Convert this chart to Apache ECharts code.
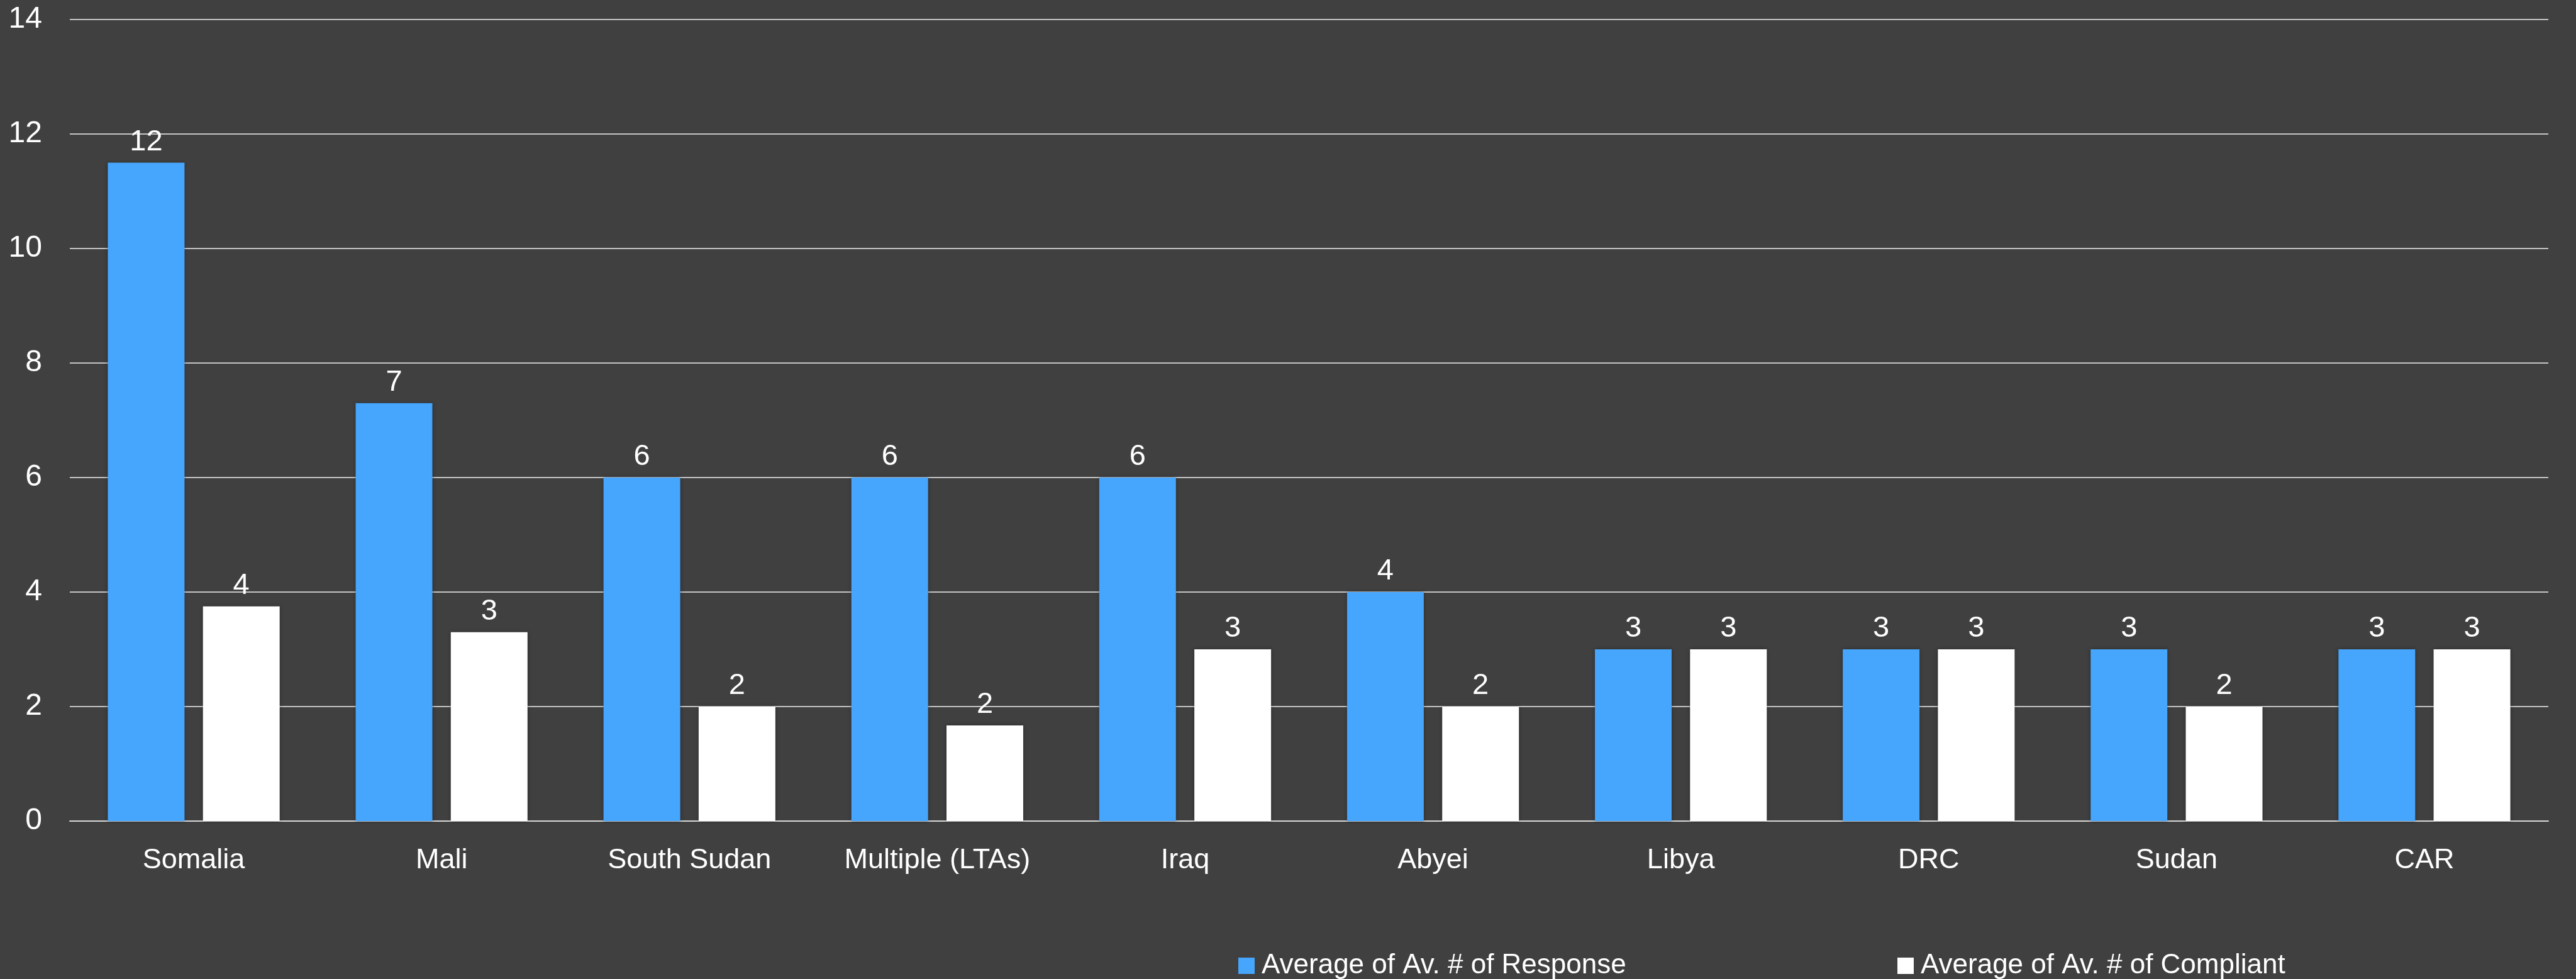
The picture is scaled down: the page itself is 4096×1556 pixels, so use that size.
<!DOCTYPE html>
<html>
<head>
<meta charset="utf-8">
<script src="https://cdn.jsdelivr.net/npm/echarts@6/dist/echarts.min.js"></script>
<style>
html,body{margin:0;padding:0;background:#404040;}
#chart{width:4096px;height:1556px;}
</style>
</head>
<body>
<div id="chart"></div>
<script>
const categories = ['Somalia', 'Mali', 'South Sudan', 'Multiple (LTAs)', 'Iraq', 'Abyei', 'Libya', 'DRC', 'Sudan', 'CAR'];
const responseValues = [11.5, 7.3, 6, 6, 6, 4, 3, 3, 3, 3];
const compliantValues = [3.75, 3.3, 2, 1.67, 3, 2, 3, 3, 2, 3];
const seriesNames = ['Average of Av. # of Response', 'Average of Av. # of Compliant'];
const yMin = 0, yMax = 14, yStep = 2;

const FONT = '"Liberation Sans", Arial, sans-serif';
const chart = echarts.init(document.getElementById('chart'));
const labelCfg = {
  show: true,
  position: 'top',
  distance: 9,
  color: '#ffffff',
  fontSize: 47,
  fontFamily: FONT,
  formatter: p => String(Math.round(p.value))
};
const shadow = {shadowBlur: 6, shadowColor: 'rgba(0,0,0,0.35)'};
chart.setOption({
  backgroundColor: '#404040',
  animation: false,
  grid: {left: 111, right: 44, top: 31, bottom: 251, containLabel: false},
  legend: [
    {data: [seriesNames[0]], left: 1964, top: 1508, itemWidth: 26, itemHeight: 26, icon: 'rect',
     textStyle: {color: '#ffffff', fontSize: 44, fontFamily: FONT, padding: [0, 0, 0, 6]}},
    {data: [seriesNames[1]], left: 3012, top: 1508, itemWidth: 26, itemHeight: 26, icon: 'rect',
     textStyle: {color: '#ffffff', fontSize: 44, fontFamily: FONT, padding: [0, 0, 0, 6]}}
  ],
  xAxis: {
    type: 'category',
    data: categories,
    axisLine: {show: true, lineStyle: {color: '#d9d9d9', width: 2}},
    axisTick: {show: false},
    axisLabel: {color: '#ffffff', fontSize: 45, fontFamily: FONT, margin: 40, interval: 0}
  },
  yAxis: {
    type: 'value',
    min: yMin, max: yMax, interval: yStep,
    axisLine: {show: false},
    axisTick: {show: false},
    splitLine: {show: true, lineStyle: {color: '#c4c4c4', width: 2}},
    axisLabel: {color: '#ffffff', fontSize: 48, fontFamily: FONT, margin: 44}
  },
  series: [
    {name: seriesNames[0], type: 'bar', data: responseValues, barWidth: 122, barGap: '24%',
     itemStyle: Object.assign({color: '#46A5FC'}, shadow), label: labelCfg},
    {name: seriesNames[1], type: 'bar', data: compliantValues, barWidth: 122, barGap: '24%',
     itemStyle: Object.assign({color: '#ffffff'}, shadow), label: labelCfg}
  ]
});
</script>
</body>
</html>
